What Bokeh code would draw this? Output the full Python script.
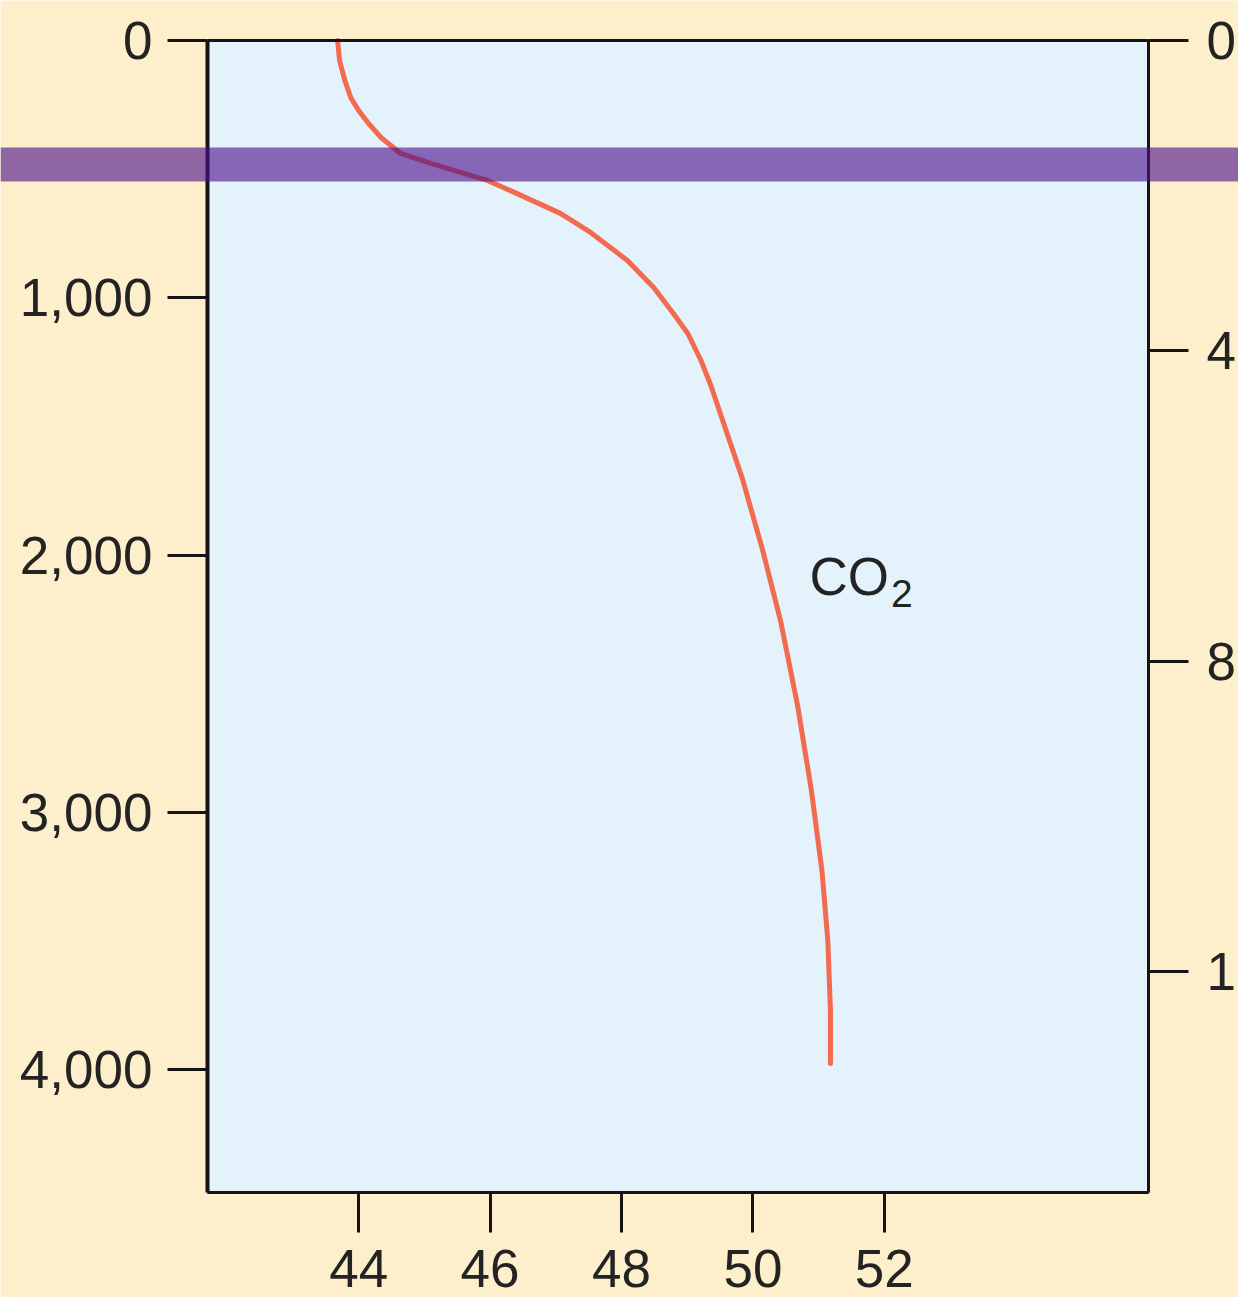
from bokeh.plotting import figure
from bokeh.models import (Range1d, LinearAxis, FixedTicker, NumeralTickFormatter,
                          BoxAnnotation, Label)
from bokeh.embed import file_html
from bokeh.resources import INLINE

# ---- data ----
co2_values = [43.68, 43.71, 43.79, 43.88, 44.00, 44.14, 44.34, 44.64, 45.10, 45.55,
              45.96, 46.47, 47.07, 47.53, 48.09, 48.49, 48.79, 49.01, 49.21, 49.36,
              49.54, 49.84, 50.15, 50.42, 50.68, 50.89, 51.05, 51.14, 51.18, 51.18]
depth_m = [0, 78, 155, 222, 272, 319, 377, 439, 478, 513,
           544, 602, 672, 746, 855, 960, 1061, 1139, 1244, 1341,
           1477, 1703, 1983, 2255, 2585, 2915, 3226, 3499, 3771, 3977]
x_ticks = [44, 46, 48, 50, 52]
depth_ticks = [0, 1000, 2000, 3000, 4000]
right_ticks = [0, 4, 8, 12]
band_depth = [416, 548]          # purple band, m
series_label = "CO"
series_sub = "2"

FONT = "Liberation Sans"
INK = "#151515"
TXT = "#232323"

# plotting box (data limits of the blue panel)
X0, X1 = 41.70, 56.02
D_BOTTOM = 4478.0
R_BOTTOM = 14.85

# frame covers the whole page; ranges chosen so the panel sits at 207..1148 x 40..1192 px
PX_X = 941 / (X1 - X0)
PX_D = 1152 / D_BOTTOM
PX_R = 1152 / R_BOTTOM
W, H = 1238, 1297
p = figure(width=W, height=H,
           x_range=Range1d(X0 - 207 / PX_X, X0 + (W - 207) / PX_X),
           y_range=Range1d((H - 40) / PX_D, -40 / PX_D),
           output_backend="svg", toolbar_location=None,
           x_axis_type=None, y_axis_type=None,
           min_border=0, min_border_left=0, min_border_right=0,
           min_border_top=0, min_border_bottom=0)
p.extra_y_ranges = {"right": Range1d((H - 40) / PX_R, -40 / PX_R)}

p.background_fill_color = "#FDEFCB"
p.border_fill_color = "#FDEFCB"
p.outline_line_color = None
p.grid.visible = False

# blue panel
p.add_layout(BoxAnnotation(left=X0, right=X1, top=0, bottom=D_BOTTOM,
                           fill_color="#E4F2FB", fill_alpha=1.0,
                           line_color=INK, line_width=3, level="underlay"))


def style(ax, standoff):
    ax.axis_line_color = INK
    ax.axis_line_width = 3
    ax.major_tick_line_color = INK
    ax.major_tick_line_width = 3
    ax.major_tick_out = 40
    ax.major_tick_in = 0
    ax.minor_tick_out = 0
    ax.minor_tick_in = 0
    ax.major_label_text_font = FONT
    ax.major_label_text_font_size = "53px"
    ax.major_label_text_color = TXT
    ax.major_label_standoff = standoff


xa = LinearAxis(ticker=FixedTicker(ticks=x_ticks), fixed_location=D_BOTTOM,
                bounds=(X0, X1))
style(xa, 17)
p.add_layout(xa, "below")

ta = LinearAxis(ticker=FixedTicker(ticks=[]), fixed_location=0, bounds=(X0, X1))
style(ta, 0)
p.add_layout(ta, "above")

ya = LinearAxis(ticker=FixedTicker(ticks=depth_ticks), fixed_location=X0,
                bounds=(0, D_BOTTOM), formatter=NumeralTickFormatter(format="0,0"))
style(ya, 15)
ya.axis_line_width = 4
p.add_layout(ya, "left")

ra = LinearAxis(y_range_name="right", ticker=FixedTicker(ticks=right_ticks),
                fixed_location=X1, bounds=(0, R_BOTTOM))
style(ra, 18)
p.add_layout(ra, "right")

# CO2 profile
p.line(co2_values, depth_m, line_color="#F26A4F", line_width=5,
       line_join="round", line_cap="round")

p.add_layout(Label(x=50.86, y=2085, text=series_label, text_font=FONT,
                   text_font_size="53px", text_color=TXT, text_baseline="alphabetic"))
p.add_layout(Label(x=52.10, y=2150, text=series_sub, text_font=FONT,
                   text_font_size="39px", text_color=TXT, text_baseline="alphabetic"))

# purple band across the whole page
p.add_layout(BoxAnnotation(top=band_depth[0], bottom=band_depth[1],
                           fill_color="#4C108B", fill_alpha=0.62, line_color=None))

open("out.html", "w").write(file_html(p, INLINE))
